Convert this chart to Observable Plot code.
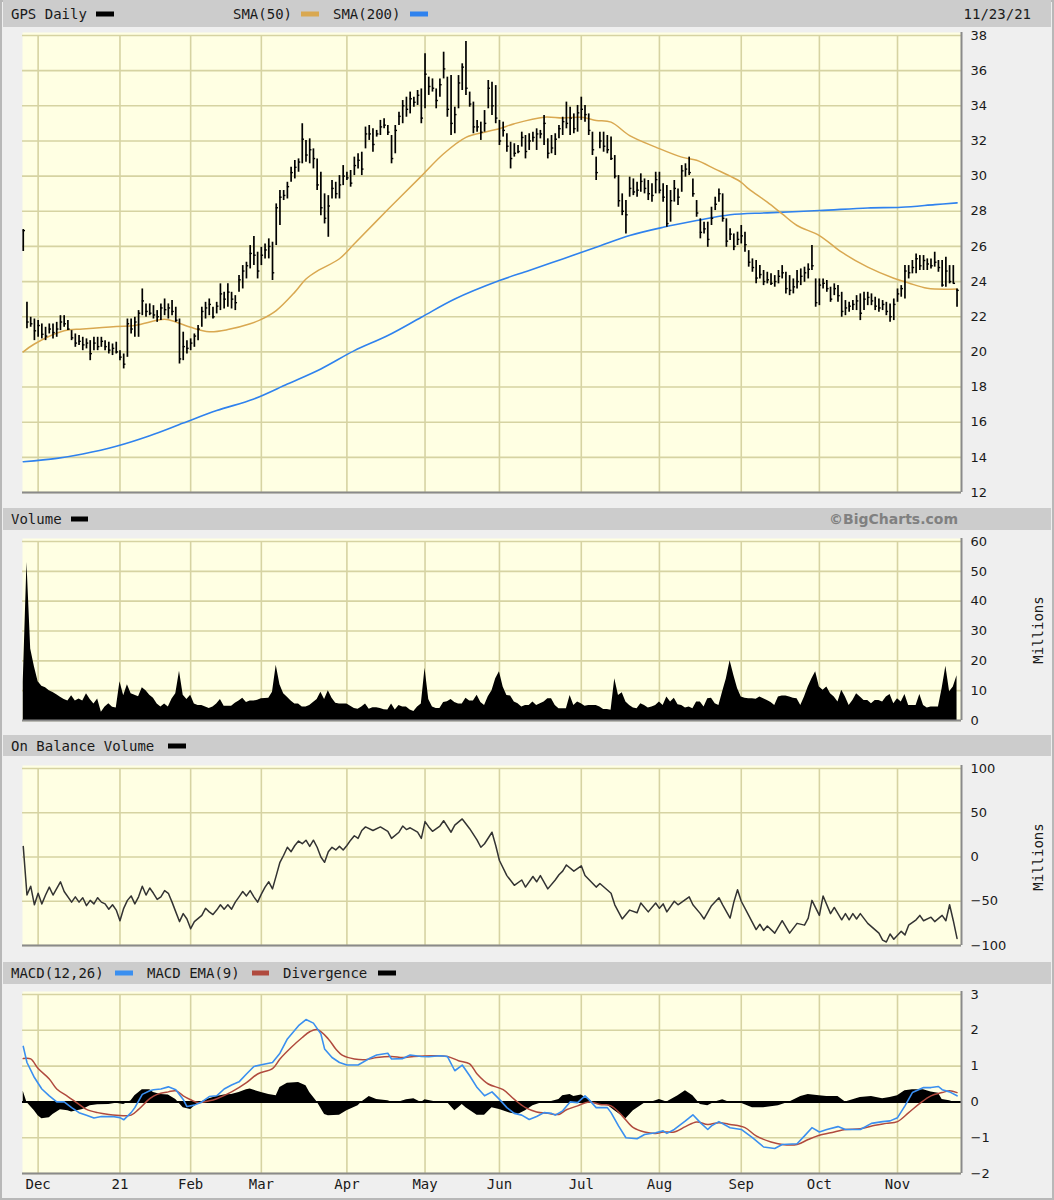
<!DOCTYPE html>
<html><head><meta charset="utf-8">
<script src="https://cdn.jsdelivr.net/npm/d3@7"></script>
<script src="https://cdn.jsdelivr.net/npm/@observablehq/plot@0.6"></script>
<style>
body{margin:0;background:#fff;}
#chart{position:relative;width:1054px;height:1200px;background:#efefef;overflow:hidden;font-family:"DejaVu Sans Mono",monospace;box-shadow:inset 0 0 0 2px #b8b8b8;}
.hbar{position:absolute;left:3px;width:1048px;background:#cccccc;}
.lbl{position:absolute;top:50%;transform:translateY(-50%);font-size:14px;color:#1a1a1a;white-space:nowrap;line-height:1;}
.sw{position:absolute;top:50%;transform:translateY(-50%);height:5px;}
.mil{position:absolute;font-size:14px;color:#1a1a1a;transform:translate(-50%,-50%) rotate(-90deg);white-space:nowrap;}
svg{overflow:visible;}
</style></head><body><div id="chart"></div><script>
// ---------- DATA ----------
const holidays = ["2020-11-26","2020-12-25","2021-01-01","2021-01-18","2021-02-15","2021-04-02","2021-05-31","2021-07-05","2021-09-06"];
const firstDay = "2020-11-24", lastDay = "2021-11-23";
const monthNames = ["21","Feb","Mar","Apr","May","Jun","Jul","Aug","Sep","Oct","Nov","Dec"];

const priceHigh = [
26.96,22.82,21.97,21.87,21.78,21.59,21.40,21.59,21.59,21.68,
22.06,22.06,21.78,21.21,21.02,20.93,20.83,20.74,20.64,20.83,
20.83,20.83,20.64,20.55,20.45,20.55,20.07,19.88,21.87,21.87,
21.97,22.35,23.58,22.73,22.73,22.63,22.35,22.73,23.01,22.73,
22.92,22.54,21.87,21.12,20.64,20.74,21.02,21.50,22.54,22.82,
23.01,22.54,22.82,23.87,23.39,23.87,23.39,23.20,24.34,24.91,
25.10,26.05,26.56,25.67,25.95,26.14,26.43,26.24,28.42,29.18,
29.18,29.65,30.51,30.89,30.98,32.98,32.03,32.12,31.55,30.98,
30.22,28.99,28.89,29.75,29.65,30.03,30.60,30.22,30.32,31.08,
31.27,31.36,32.79,32.88,32.69,32.60,33.17,33.26,32.88,32.31,
32.88,33.64,34.30,34.49,34.78,34.49,34.87,34.96,36.96,35.63,
35.53,34.96,35.53,37.05,35.63,35.72,33.92,35.72,36.39,37.66,
34.78,34.21,33.17,33.07,33.73,35.44,35.34,35.15,33.17,33.07,
32.41,31.93,31.84,31.74,32.50,32.31,32.41,32.50,32.69,32.60,
33.45,32.12,32.31,32.41,32.88,33.35,34.21,33.92,33.54,34.02,
34.49,34.02,33.54,32.50,31.08,32.50,32.50,32.31,32.22,31.17,
30.03,28.99,28.61,29.94,29.84,29.65,30.13,29.84,29.75,29.56,
30.22,30.22,29.56,29.46,29.18,29.75,29.27,30.60,30.70,31.08,
29.84,28.61,27.57,27.38,27.38,28.23,28.80,29.27,28.99,27.57,
27.00,26.71,26.81,27.19,26.81,25.76,25.29,25.20,24.91,24.63,
24.53,24.44,24.34,24.63,24.91,24.53,24.34,24.15,24.63,24.72,
24.82,25.01,26.05,24.15,24.15,24.15,24.06,23.68,23.87,23.77,
23.39,22.92,22.82,22.92,23.20,23.30,23.39,23.39,23.30,23.11,
23.01,22.92,22.82,22.73,23.01,23.58,23.77,24.91,24.91,25.20,
25.57,25.48,25.48,25.29,25.29,25.67,25.20,25.20,25.39,24.91,
24.91,23.58];
const priceLow = [
25.71,21.31,21.40,20.64,20.83,20.74,20.64,21.02,20.74,20.83,
21.21,21.40,21.21,20.64,20.26,20.36,20.07,20.17,19.50,20.07,
20.07,20.26,20.07,19.88,19.79,19.88,19.50,19.03,19.69,21.02,
20.83,20.83,22.06,21.97,22.06,21.87,21.68,21.78,22.06,21.87,
22.06,21.68,19.31,19.50,19.88,20.07,20.26,20.64,21.40,21.87,
22.06,21.87,22.16,22.35,22.44,22.54,22.44,22.35,23.39,23.58,
24.15,24.72,24.91,24.15,24.91,25.29,25.29,24.06,26.05,27.19,
28.61,28.70,29.65,29.84,30.22,30.70,30.79,30.70,30.41,29.18,
27.75,27.28,26.52,28.70,28.70,28.70,29.46,29.75,29.37,30.03,
30.41,30.03,31.55,32.03,31.36,32.22,32.31,32.69,32.31,30.70,
31.27,32.88,32.98,33.35,33.54,33.92,34.02,32.98,33.83,34.59,
34.78,33.83,34.49,35.53,33.35,32.31,32.41,33.83,34.87,34.59,
33.92,32.41,32.50,32.03,32.50,33.83,33.45,32.98,31.74,32.22,
31.36,30.41,31.08,31.27,31.65,30.98,31.46,31.93,31.46,32.12,
31.74,30.98,31.27,31.17,32.12,32.31,32.69,32.31,32.41,32.50,
33.17,33.07,32.31,31.17,29.75,31.55,31.36,31.27,30.89,29.84,
28.23,27.75,26.71,28.80,28.89,28.80,29.08,28.99,28.61,28.52,
28.99,28.99,28.52,27.09,27.38,28.52,28.33,29.08,29.94,30.03,
28.80,27.66,26.43,26.71,25.95,27.19,28.04,28.52,27.38,25.95,
26.33,25.76,26.05,26.14,25.67,24.82,24.53,23.87,24.15,23.77,
23.87,23.77,23.68,23.87,24.15,23.30,23.20,23.30,23.58,23.77,
23.96,24.15,24.63,22.54,22.63,23.58,23.39,22.82,23.20,22.82,
21.97,22.06,22.25,22.35,22.35,21.78,22.35,22.63,22.63,22.35,
22.25,22.35,22.06,21.68,21.78,22.82,23.11,23.01,24.15,24.44,
24.44,24.63,24.63,24.63,24.72,24.82,24.53,23.68,23.68,23.87,
23.87,22.54];
const priceClose = [
26.9,21.7,21.6,21.2,21.5,21.0,20.9,21.3,21.1,21.3,
21.7,21.6,21.3,20.8,20.5,20.6,20.4,20.5,19.9,20.5,
20.3,20.6,20.3,20.1,20.2,20.0,19.7,19.3,21.6,21.3,
21.7,22.2,22.9,22.3,22.2,22.1,22.0,22.5,22.4,22.5,
22.3,21.8,19.6,20.3,20.2,20.5,20.9,21.3,22.3,22.5,
22.7,22.0,22.6,23.3,23.0,23.4,23.0,22.8,24.1,24.6,
24.9,25.6,25.5,24.6,25.5,25.8,26.0,24.5,28.2,28.8,
28.9,29.4,30.2,30.5,30.8,32.1,31.2,31.5,31.0,29.5,
28.2,27.6,28.3,29.3,29.0,29.5,30.0,29.9,29.6,30.6,
30.9,30.4,32.4,32.4,31.8,32.4,32.8,32.9,32.5,31.0,
32.6,33.4,34.0,33.8,34.4,34.2,34.6,33.3,35.8,35.1,
35.0,34.3,35.2,36.1,33.8,33.0,33.5,35.3,36.2,35.0,
34.1,32.8,32.8,32.5,33.0,35.0,34.0,33.3,32.0,32.6,
31.7,31.0,31.3,31.4,32.2,31.4,32.0,32.2,32.4,32.4,
33.0,31.3,31.6,32.1,32.7,33.1,33.0,33.3,32.7,33.6,
33.8,33.5,32.6,31.5,30.2,32.0,31.7,31.5,31.0,30.0,
28.6,28.0,27.8,29.3,29.1,29.2,29.7,29.3,29.0,28.9,
29.8,29.2,28.8,27.3,28.6,29.3,28.8,30.3,30.4,30.2,
29.0,27.9,26.8,27.0,26.4,27.6,28.4,29.0,27.6,26.3,
26.7,26.0,26.4,26.6,26.1,25.1,24.8,24.2,24.4,24.0,
24.1,23.9,24.0,24.3,24.5,23.6,23.5,23.7,24.0,24.3,
24.5,24.7,24.9,22.8,23.8,23.9,23.6,23.0,23.6,23.2,
22.3,22.5,22.6,22.7,22.9,22.2,23.0,23.1,22.9,22.6,
22.5,22.7,22.3,22.0,22.7,23.3,23.6,24.6,24.5,24.8,
25.3,24.9,25.2,25.0,24.9,25.1,24.8,23.8,24.6,24.0,
23.9,23.5];

const sma50Day = [0,3,11,16,25,30,38,41,45,50,55,61,64,68,73,76,79,85,89,98,107,113,119,124,128,132,140,145,150,154,158,163,170,177,181,186,190,193,195,200,204,208,214,220,227,234,238,243,251];
const sma50Val = [20.0,20.45,21.2,21.3,21.45,21.5,21.85,21.7,21.4,21.15,21.27,21.6,21.85,22.35,23.4,24.15,24.6,25.3,26.15,28.1,30.0,31.27,32.2,32.5,32.7,32.98,33.35,33.3,33.35,33.17,33.07,32.3,31.65,31.08,30.9,30.4,30.0,29.65,29.27,28.52,27.85,27.19,26.62,25.67,24.82,24.19,23.92,23.62,23.58];
const sma200Day = [0,9,16,25,34,43,52,62,71,80,89,98,107,116,128,136,145,154,163,172,181,190,200,214,227,236,245,251];
const sma200Val = [13.75,13.94,14.19,14.63,15.23,15.95,16.66,17.32,18.17,19.03,20.07,20.93,21.97,23.01,24.06,24.63,25.29,25.95,26.62,27.09,27.47,27.8,27.91,28.04,28.19,28.23,28.38,28.48];

const volume = [
13,53,24,18,13,11.5,11,10,9.4,8.6,
7.8,7,6.5,8.3,6.5,7.2,6.5,9,7,5.5,
7.2,2.8,4.5,5.6,4.4,4.2,13,8.3,12,9,
8.5,8,11,10,8.5,7.5,5.5,4.5,5.5,4.5,
7.2,9,16.5,8.5,7,8.5,5.5,5,5,4.5,
4,4.5,5.5,7,4.8,4.8,4.8,5.8,6.5,7.5,
6,6.5,6.5,6.8,7.3,7.4,7.5,9.5,18.5,12,
9,7.8,6.5,5.5,5.5,4.5,4.5,5,6,7,
9.5,7,10,7.5,5.8,5.5,5.5,5.5,4.8,4,
3.8,4.5,5.5,3.8,4.3,4.3,4,3.6,3.5,5.5,
3.5,5,4.5,4.5,3.5,3,4.5,5.5,17.5,7,
4.5,4,4,6,6.3,7,6,5.5,5.5,7.5,
6.5,6.5,8.5,6,5,8,10,14,16.3,11.2,
8.4,8.2,6.2,5.6,4.5,5,5,6.2,5,5.6,
6.2,7.3,7.3,5,3.9,3.9,3.9,8.4,5,6.2,
5.6,4.8,5,5,5,4.5,3.7,3.7,3.4,14,
8.4,9.3,6.2,5,4.2,3.9,5.6,5,4.2,4.5,
5,6.2,5,7.9,6.2,7.5,5.3,5,4.2,4.5,
3.9,6.2,6.2,4.5,7.3,7.5,5.6,5,9.6,14,
20,15.2,10.7,7.9,7.5,7.3,7.3,7.1,7.9,7.3,
6.7,6,5,7.9,8.2,8.2,7.9,7.5,7.3,5,
7.9,11.2,14,16.3,11.2,10.1,11.2,9,7.9,6.2,
10.1,7.9,5,6.7,9,7.9,6.7,6.7,5.6,6.7,
6.7,6.2,7.9,8.7,5.6,7.3,6.2,8.7,5,5,
5,8.7,5,4.2,4.5,4.5,4.5,10.7,18.2,9.6,
11.2,15];

const obvDay = [0,1,2,3,4,5,6,7,8,10,11,13,14,15,16,17,18,19,20,21,22,23,24,25,26,27,28,29,30,31,32,33,34,35,36,37,38,39,40,41,42,43,44,45,46,48,49,50,51,52,53,54,55,56,57,58,59,60,61,62,63,64,65,66,67,68,69,70,71,72,73,74,75,76,77,78,79,80,81,82,83,84,85,86,87,88,89,90,91,92,94,96,98,99,101,102,103,104,106,107,108,109,110,112,113,115,116,118,120,122,123,124,126,127,128,130,132,134,135,137,138,139,141,143,144,145,146,148,150,151,154,155,158,159,161,163,165,166,168,170,171,172,173,175,176,179,180,182,183,185,187,188,190,191,192,193,195,197,198,199,200,202,204,206,208,210,211,212,214,215,217,218,220,221,222,223,224,225,227,230,231,232,233,234,236,237,238,240,241,242,244,245,247,248,249,250,251];
const obvVal = [12,-43,-33,-54,-41,-53,-43,-34,-43,-28,-39,-51,-45,-51,-46,-55,-49,-53,-46,-51,-53,-59,-54,-60,-72,-58,-49,-44,-53,-45,-33,-43,-35,-41,-48,-45,-38,-41,-51,-62,-73,-64,-70,-81,-73,-66,-58,-62,-65,-60,-54,-59,-54,-59,-51,-45,-39,-44,-38,-45,-51,-42,-34,-28,-36,-21,-6,2,11,6,13,18,15,19,12,19,11,0,-6,6,11,8,12,8,13,19,24,21,30,34,30,34,29,21,28,35,31,33,28,21,40,34,29,35,41,28,36,43,32,19,11,15,28,13,-4,-21,-32,-26,-34,-22,-28,-21,-36,-26,-20,-16,-9,-16,-10,-21,-34,-30,-41,-54,-70,-60,-63,-52,-62,-52,-58,-53,-62,-50,-54,-45,-54,-64,-70,-55,-46,-54,-69,-51,-37,-50,-66,-82,-76,-83,-78,-86,-72,-86,-75,-77,-69,-49,-66,-44,-64,-57,-71,-64,-71,-64,-70,-64,-75,-86,-94,-96,-87,-93,-84,-88,-77,-71,-66,-72,-68,-73,-66,-72,-54,-72,-92];

const macdDay = [0,1,3,5,7,9,11,13,15,17,19,21,24,26,27,29,30,32,34,35,37,39,41,43,44,46,48,50,52,54,56,58,60,62,65,67,69,71,74,76,78,80,81,83,85,87,90,93,95,98,99,102,104,107,109,112,114,116,118,120,122,124,126,128,130,132,134,136,138,140,142,143,145,147,149,151,152,154,157,158,160,162,165,167,170,172,173,175,178,180,182,184,185,187,190,193,196,199,202,204,208,210,212,214,216,219,221,225,228,231,233,235,237,239,242,244,246,247,249,251];
const macdVal = [1.55,1.1,0.68,0.36,0.17,0,0,-0.16,-0.30,-0.37,-0.45,-0.41,-0.41,-0.44,-0.50,-0.30,-0.16,0.21,0.31,0.34,0.36,0.42,0.34,0.07,-0.13,-0.09,0,0.15,0.17,0.36,0.47,0.56,0.78,0.99,1.06,1.10,1.36,1.76,2.13,2.30,2.20,1.90,1.48,1.24,1.10,1.03,1.03,1.21,1.31,1.36,1.20,1.21,1.31,1.27,1.26,1.29,1.27,0.87,1.03,0.73,0.40,0.17,0.28,0.07,-0.16,-0.32,-0.37,-0.49,-0.41,-0.30,-0.32,-0.37,-0.25,0,-0.02,0.17,0.07,-0.16,-0.16,-0.30,-0.67,-1.0,-1.03,-0.91,-0.86,-0.81,-0.88,-0.77,-0.53,-0.36,-0.58,-0.77,-0.67,-0.55,-0.72,-0.77,-1.0,-1.26,-1.30,-1.19,-1.17,-0.95,-0.72,-0.84,-0.77,-0.69,-0.77,-0.77,-0.60,-0.55,-0.53,-0.44,-0.11,0.26,0.40,0.40,0.43,0.34,0.28,0.17];

const emaDay = [0,2,4,7,9,12,15,17,20,23,25,29,31,34,36,39,41,43,45,47,50,52,56,60,63,67,69,72,75,77,79,82,84,86,89,92,95,99,102,105,110,114,117,120,122,125,129,132,135,138,141,144,146,149,152,155,158,161,164,167,170,172,175,178,181,184,187,190,194,197,201,204,208,211,214,218,221,225,229,232,235,238,241,244,247,249,251];
const emaVal = [1.21,1.2,0.93,0.64,0.36,0.15,-0.07,-0.21,-0.30,-0.35,-0.37,-0.37,-0.21,0.09,0.21,0.28,0.31,0.17,0.06,-0.02,0.03,0.09,0.28,0.54,0.78,0.93,1.20,1.52,1.80,1.96,2.02,1.76,1.48,1.29,1.20,1.18,1.24,1.27,1.24,1.27,1.29,1.27,1.15,1.06,0.78,0.50,0.34,0.07,-0.16,-0.28,-0.32,-0.35,-0.22,-0.11,0,-0.07,-0.11,-0.39,-0.72,-0.84,-0.88,-0.84,-0.84,-0.69,-0.56,-0.63,-0.58,-0.63,-0.72,-0.95,-1.12,-1.19,-1.19,-1.05,-0.93,-0.84,-0.77,-0.75,-0.65,-0.60,-0.55,-0.30,-0.04,0.17,0.26,0.31,0.26];

const divDay = [0,1,3,4,5,7,8,10,12,13,16,18,20,23,25,27,29,30,32,34,35,37,39,41,43,45,47,50,52,54,56,58,60,61,64,66,68,69,71,74,76,77,79,81,82,85,87,90,91,93,95,98,100,103,105,107,108,111,114,116,117,118,119,122,124,126,128,131,133,135,137,139,141,144,145,147,148,150,152,154,157,159,162,164,167,169,171,173,176,178,180,182,184,186,188,190,193,196,199,203,206,209,211,214,216,219,221,225,228,231,233,235,237,239,242,244,246,247,249,251];
const divVal = [0.3,-0.02,-0.25,-0.39,-0.47,-0.44,-0.35,-0.22,-0.25,-0.28,-0.21,-0.11,-0.08,-0.07,-0.04,-0.07,0.03,0.17,0.34,0.34,0.26,0.21,0.19,0.07,-0.16,-0.21,-0.04,0.09,0.15,0.19,0.21,0.26,0.34,0.36,0.26,0.21,0.17,0.40,0.52,0.54,0.45,0.26,0,-0.35,-0.39,-0.37,-0.25,-0.11,0,0.15,0.07,0.03,-0.04,0.06,0.09,-0.02,0.06,0,-0.02,-0.25,-0.16,-0.07,-0.16,-0.37,-0.37,-0.16,-0.21,-0.32,-0.35,-0.25,-0.11,-0.04,-0.02,0.07,0.17,0.21,0.15,0.19,0.07,-0.07,-0.09,-0.25,-0.47,-0.25,-0.04,0,0.07,0,0.17,0.31,0.17,-0.07,-0.11,0,0.06,-0.02,-0.04,-0.16,-0.16,-0.11,0,0.15,0.21,0.17,0.15,0.15,0,0.12,0.15,0.09,0.12,0.17,0.31,0.34,0.34,0.28,0.24,0.07,0.03,-0.04];

// ---------- COLORS ----------
const C = {
  plotBg: "#ffffe3", grid: "#d6d3a2", sma50: "#d9a851", sma200: "#2f82ee",
  macd: "#3a8ff0", ema: "#b04a3e", bar: "#cccccc"
};

// ---------- trading calendar ----------
const days = [];
for (let t = Date.parse(firstDay + "T00:00:00Z"); t <= Date.parse(lastDay + "T00:00:00Z"); t += 86400000) {
  const d = new Date(t), wd = d.getUTCDay(), s = d.toISOString().slice(0, 10);
  if (wd === 0 || wd === 6 || holidays.includes(s)) continue;
  days.push(d);
}
const monthIdx = [], monthLab = new Map();
days.forEach((d, i) => {
  if (i > 0 && d.getUTCMonth() !== days[i - 1].getUTCMonth()) {
    monthIdx.push(i);
    monthLab.set(i, monthNames[d.getUTCMonth()]);
  }
});

const bars = priceHigh.map((h, i) => ({i, hi: h, lo: priceLow[i], cl: priceClose[i]}));
const zip = (a, b) => a.map((x, k) => ({x, y: b[k]}));
const vol = volume.map((v, i) => ({x: i, y: v}));

// ---------- layout ----------
const chart = document.getElementById("chart");
const W = 1054, XL = 22, XR = 961;
const xDomain = [-0.2, 252.2];

function panel({top, mt, plotH, mb, yDomain, yTicks, marks, xLabels = false}) {
  const p = Plot.plot({
    width: W, height: mt + plotH + mb,
    marginTop: mt, marginBottom: mb, marginLeft: XL, marginRight: W - XR,
    x: xLabels ? {domain: xDomain, label: null} : {domain: xDomain, axis: null, label: null},
    y: {domain: yDomain, label: null},
    style: {background: "transparent", fontFamily: "DejaVu Sans, sans-serif", fontSize: "13px", color: "#1a1a1a"},
    marks: [
      Plot.frame({fill: C.plotBg, insetTop: -3}),
      Plot.ruleX(monthIdx, {stroke: C.grid, strokeWidth: 1.6}),
      Plot.ruleY(yTicks, {stroke: C.grid, strokeWidth: 1.6}),
      ...marks,
      Plot.ruleY([yDomain[0]], {stroke: "#8a8a8a", strokeWidth: 2}),
      Plot.ruleX([xDomain[1]], {stroke: "#8a8a8a", strokeWidth: 2, insetTop: -3}),
      Plot.axisY(yTicks, {anchor: "right", tickSize: 0, tickPadding: 9, fontSize: 13, label: null}),
      xLabels ? Plot.axisX(monthIdx, {anchor: "bottom", tickSize: 0, tickPadding: 6, fontSize: 14, label: null,
        fontFamily: "DejaVu Sans Mono, monospace", tickFormat: d => monthLab.get(d)}) : null
    ]
  });
  p.style.position = "absolute";
  p.style.left = "0px";
  p.style.top = top + "px";
  chart.append(p);
}

function header(top, h, items) {
  const b = document.createElement("div");
  b.className = "hbar";
  b.style.top = top + "px";
  b.style.height = h + "px";
  for (const it of items) {
    const e = document.createElement("div");
    if (it.sw) {
      e.className = "sw";
      e.style.left = (it.x - 3) + "px";
      e.style.width = it.w + "px";
      e.style.background = it.sw;
    } else {
      e.className = "lbl";
      e.textContent = it.t;
      if (it.right != null) { e.style.right = (1051 - it.right) + "px"; } else { e.style.left = (it.x - 3) + "px"; }
      if (it.style) Object.assign(e.style, it.style);
    }
    b.append(e);
  }
  chart.append(b);
}
function millions(cx, cy) {
  const e = document.createElement("div");
  e.className = "mil";
  e.textContent = "Millions";
  e.style.left = cx + "px";
  e.style.top = cy + "px";
  chart.append(e);
}

// Price panel
header(0, 27, [
  {t: "GPS Daily", x: 11}, {sw: "#000", x: 96, w: 18},
  {t: "SMA(50)", x: 233}, {sw: C.sma50, x: 301, w: 18},
  {t: "SMA(200)", x: 333}, {sw: C.sma200, x: 410, w: 18},
  {t: "11/23/21", right: 1031}
]);
panel({
  top: 27, mt: 8, plotH: 457, mb: 3, yDomain: [12, 38], yTicks: d3.range(12, 39, 2),
  marks: [
    Plot.line(zip(sma200Day, sma200Val), {x: "x", y: "y", stroke: C.sma200, strokeWidth: 1.6, curve: "catmull-rom"}),
    Plot.line(zip(sma50Day, sma50Val), {x: "x", y: "y", stroke: C.sma50, strokeWidth: 1.5, curve: "catmull-rom"}),
    Plot.ruleX(bars, {x: "i", y1: "lo", y2: "hi", stroke: "#000", strokeWidth: 1.7}),
    Plot.ruleY(bars, {y: "cl", x1: "i", x2: d => d.i + 0.6, stroke: "#000", strokeWidth: 1.4})
  ]
});

// Volume panel
header(508, 22, [
  {t: "Volume", x: 11}, {sw: "#000", x: 71, w: 17},
  {t: "©BigCharts.com", right: 958, style: {fontFamily: "DejaVu Sans, sans-serif", fontWeight: "bold", color: "#808080", fontSize: "14px"}}
]);
panel({
  top: 531, mt: 10, plotH: 179, mb: 3, yDomain: [0, 60], yTicks: d3.range(0, 61, 10),
  marks: [Plot.areaY(vol, {x: "x", y: "y", fill: "#000", curve: "linear"})]
});
millions(1038, 630);

// OBV panel
header(735, 21, [{t: "On Balance Volume", x: 11}, {sw: "#000", x: 168, w: 18}]);
panel({
  top: 758, mt: 10, plotH: 177, mb: 3, yDomain: [-100, 100], yTicks: [-100, -50, 0, 50, 100],
  marks: [Plot.line(zip(obvDay, obvVal), {x: "x", y: "y", stroke: "#333", strokeWidth: 1.5})]
});
millions(1038, 857);

// MACD panel
header(962, 22, [
  {t: "MACD(12,26)", x: 11}, {sw: C.macd, x: 115, w: 18},
  {t: "MACD EMA(9)", x: 147}, {sw: C.ema, x: 252, w: 17},
  {t: "Divergence", x: 283}, {sw: "#000", x: 378, w: 18}
]);
panel({
  top: 984, mt: 10, plotH: 179, mb: 27, yDomain: [-2, 3], yTicks: [-2, -1, 0, 1, 2, 3], xLabels: true,
  marks: [
    Plot.areaY(zip(divDay, divVal), {x: "x", y: "y", fill: "#000"}),
    Plot.ruleY([0], {stroke: "#000", strokeWidth: 2}),
    Plot.line(zip(emaDay, emaVal), {x: "x", y: "y", stroke: C.ema, strokeWidth: 1.5, curve: "catmull-rom"}),
    Plot.line(zip(macdDay, macdVal), {x: "x", y: "y", stroke: C.macd, strokeWidth: 1.6})
  ]
});
</script></body></html>
